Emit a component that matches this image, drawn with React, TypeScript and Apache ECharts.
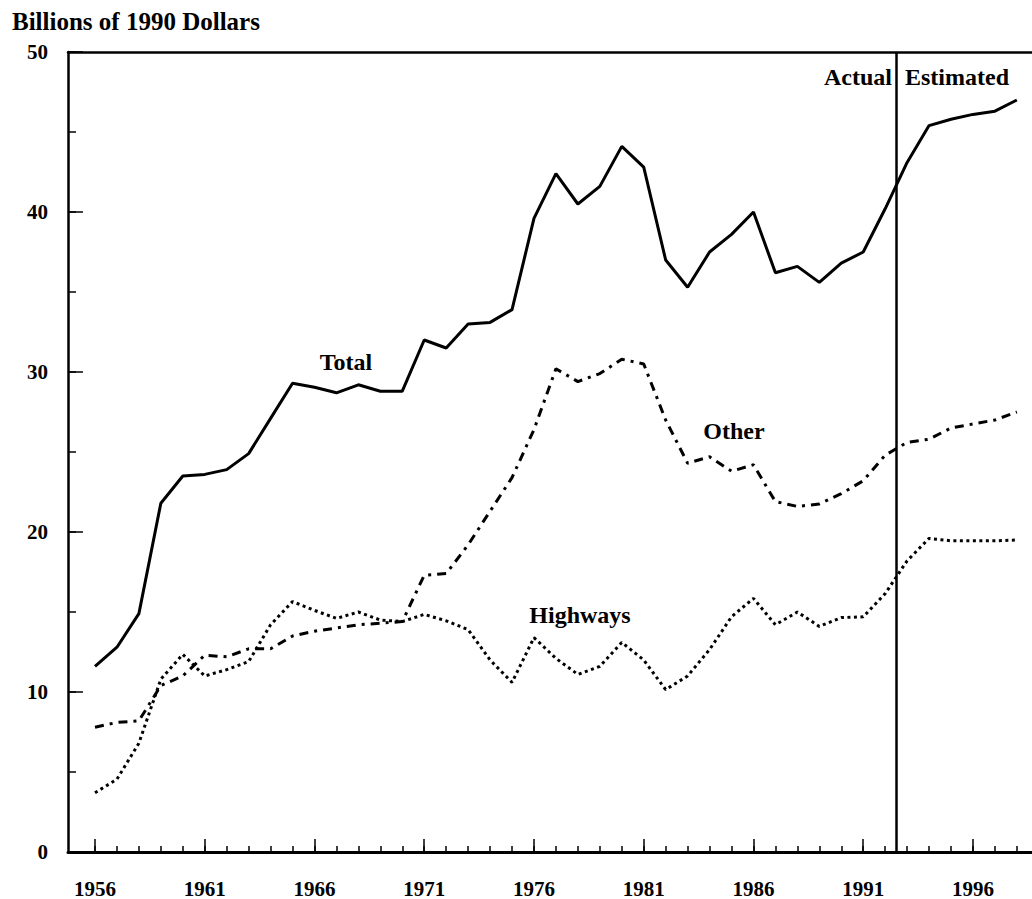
import React, { useEffect, useRef } from "react";
import * as echarts from "echarts";

const years = [
  1956, 1957, 1958, 1959, 1960, 1961, 1962, 1963, 1964, 1965, 1966, 1967, 1968, 1969, 1970,
  1971, 1972, 1973, 1974, 1975, 1976, 1977, 1978, 1979, 1980, 1981, 1982, 1983, 1984, 1985,
  1986, 1987, 1988, 1989, 1990, 1991, 1992, 1993, 1994, 1995, 1996, 1997, 1998,
];

const total = [
  11.6, 12.8, 14.9, 21.8, 23.5, 23.6, 23.9, 24.9, 27.1, 29.3, 29.05, 28.7, 29.2, 28.8, 28.8,
  32.0, 31.5, 33.0, 33.1, 33.9, 39.6, 42.4, 40.5, 41.6, 44.1, 42.8, 37.0, 35.3, 37.5, 38.6,
  40.0, 36.2, 36.6, 35.6, 36.8, 37.5, 40.2, 43.1, 45.4, 45.8, 46.1, 46.3, 47.0,
];

const other = [
  7.8, 8.1, 8.2, 10.4, 11.0, 12.3, 12.2, 12.7, 12.7, 13.5, 13.8, 14.0, 14.2, 14.3, 14.4,
  17.3, 17.4, 19.2, 21.3, 23.4, 26.4, 30.2, 29.4, 29.9, 30.8, 30.5, 27.0, 24.3, 24.7, 23.8,
  24.2, 21.9, 21.6, 21.75, 22.4, 23.2, 24.8, 25.6, 25.8, 26.5, 26.75, 27.0, 27.5,
];

const highways = [
  3.7, 4.55, 6.8, 10.8, 12.35, 11.0, 11.4, 11.9, 14.2, 15.65, 15.1, 14.6, 15.0, 14.5, 14.4,
  14.85, 14.45, 13.9, 12.0, 10.6, 13.4, 12.1, 11.1, 11.6, 13.1, 12.0, 10.15, 11.0, 12.65, 14.7,
  15.85, 14.2, 15.0, 14.1, 14.65, 14.7, 16.15, 18.2, 19.6, 19.45, 19.45, 19.45, 19.5,
];

const xLabelYears = [1956, 1961, 1966, 1971, 1976, 1981, 1986, 1991, 1996];
const dividerYear = 1992.5;

const seriesNames = ["Total", "Other", "Highways"];
const titleText = "Billions of 1990 Dollars";
const actualText = "Actual";
const estimatedText = "Estimated";

const X_MIN = 1954.77;
const X_MAX = 1998.69;
const SERIF = '"Liberation Serif", "Times New Roman", serif';

export default function App() {
  const ref = useRef<HTMLDivElement>(null);

  useEffect(() => {
    document.body.style.margin = "0";
    if (!ref.current) return;
    const chart = echarts.init(ref.current, undefined, { renderer: "svg" });

    const pair = (vals: number[]) => years.map((y, i) => [y, vals[i]]);
    const labelFont = (size: number) => `bold ${size}px ${SERIF}`;

    const option: any = {
      animation: false,
      backgroundColor: "#ffffff",
      grid: { left: 68, right: 0, top: 52, bottom: 44, containLabel: false },
      xAxis: [
        {
          type: "value",
          min: X_MIN,
          max: X_MAX,
          position: "bottom",
          axisLine: { show: true, lineStyle: { color: "#000", width: 3 } },
          axisTick: {
            show: true,
            inside: true,
            length: 13,
            customValues: xLabelYears,
            lineStyle: { color: "#000", width: 1.5 },
          },
          axisLabel: {
            show: true,
            customValues: xLabelYears,
            margin: 26,
            color: "#000",
            fontFamily: SERIF,
            fontWeight: "bold",
            fontSize: 21,
            formatter: (v: number) => String(Math.round(v)),
          },
          splitLine: { show: false },
        },
        {
          type: "value",
          min: X_MIN,
          max: X_MAX,
          position: "bottom",
          axisLine: { show: false },
          axisTick: {
            show: true,
            inside: true,
            length: 6,
            customValues: years,
            lineStyle: { color: "#000", width: 1.5 },
          },
          axisLabel: { show: false },
          splitLine: { show: false },
        },
        {
          type: "value",
          min: X_MIN,
          max: X_MAX,
          position: "top",
          axisLine: { show: true, lineStyle: { color: "#000", width: 2.5 } },
          axisTick: { show: false },
          axisLabel: { show: false },
          splitLine: { show: false },
        },
      ],
      yAxis: [
        {
          type: "value",
          min: 0,
          max: 50,
          interval: 10,
          position: "left",
          axisLine: { show: true, lineStyle: { color: "#000", width: 2.5 } },
          axisTick: { show: true, inside: true, length: 15, lineStyle: { color: "#000", width: 1.5 } },
          axisLabel: {
            show: true,
            margin: 20,
            color: "#000",
            fontFamily: SERIF,
            fontWeight: "bold",
            fontSize: 21,
          },
          splitLine: { show: false },
        },
        {
          type: "value",
          min: 0,
          max: 50,
          interval: 5,
          position: "left",
          axisLine: { show: false },
          axisTick: { show: true, inside: true, length: 8, lineStyle: { color: "#000", width: 1.5 } },
          axisLabel: { show: false },
          splitLine: { show: false },
        },
      ],
      series: [
        {
          name: seriesNames[0],
          type: "line",
          xAxisIndex: 0,
          yAxisIndex: 0,
          data: pair(total),
          showSymbol: false,
          symbol: "none",
          lineStyle: { color: "#000", width: 3, type: "solid" },
          markLine: {
            silent: true,
            symbol: "none",
            label: { show: false },
            lineStyle: { color: "#000", width: 2.5, type: "solid" },
            data: [{ xAxis: dividerYear }],
          },
        },
        {
          name: seriesNames[1],
          type: "line",
          xAxisIndex: 0,
          yAxisIndex: 0,
          data: pair(other),
          showSymbol: false,
          symbol: "none",
          lineStyle: { color: "#000", width: 3, type: [9, 6, 3, 6] },
        },
        {
          name: seriesNames[2],
          type: "line",
          xAxisIndex: 0,
          yAxisIndex: 0,
          data: pair(highways),
          showSymbol: false,
          symbol: "none",
          lineStyle: { color: "#000", width: 3, type: [3, 3.5] },
        },
      ],
      graphic: [
        {
          type: "text",
          x: 12,
          y: 21,
          style: {
            text: titleText,
            font: labelFont(25),
            fill: "#000",
            textAlign: "left",
            textVerticalAlign: "middle",
          },
        },
        {
          type: "text",
          x: 346,
          y: 362,
          style: {
            text: seriesNames[0],
            font: labelFont(24),
            fill: "#000",
            textAlign: "center",
            textVerticalAlign: "middle",
          },
        },
        {
          type: "text",
          x: 734,
          y: 431,
          style: {
            text: seriesNames[1],
            font: labelFont(24),
            fill: "#000",
            textAlign: "center",
            textVerticalAlign: "middle",
          },
        },
        {
          type: "text",
          x: 580,
          y: 615,
          style: {
            text: seriesNames[2],
            font: labelFont(24),
            fill: "#000",
            textAlign: "center",
            textVerticalAlign: "middle",
          },
        },
        {
          type: "text",
          x: 892,
          y: 77,
          style: {
            text: actualText,
            font: labelFont(24),
            fill: "#000",
            textAlign: "right",
            textVerticalAlign: "middle",
          },
        },
        {
          type: "text",
          x: 905,
          y: 77,
          style: {
            text: estimatedText,
            font: labelFont(24),
            fill: "#000",
            textAlign: "left",
            textVerticalAlign: "middle",
          },
        },
      ],
    };

    chart.setOption(option);
    return () => {
      chart.dispose();
    };
  }, []);

  return <div ref={ref} style={{ width: 1032, height: 899 }} />;
}
